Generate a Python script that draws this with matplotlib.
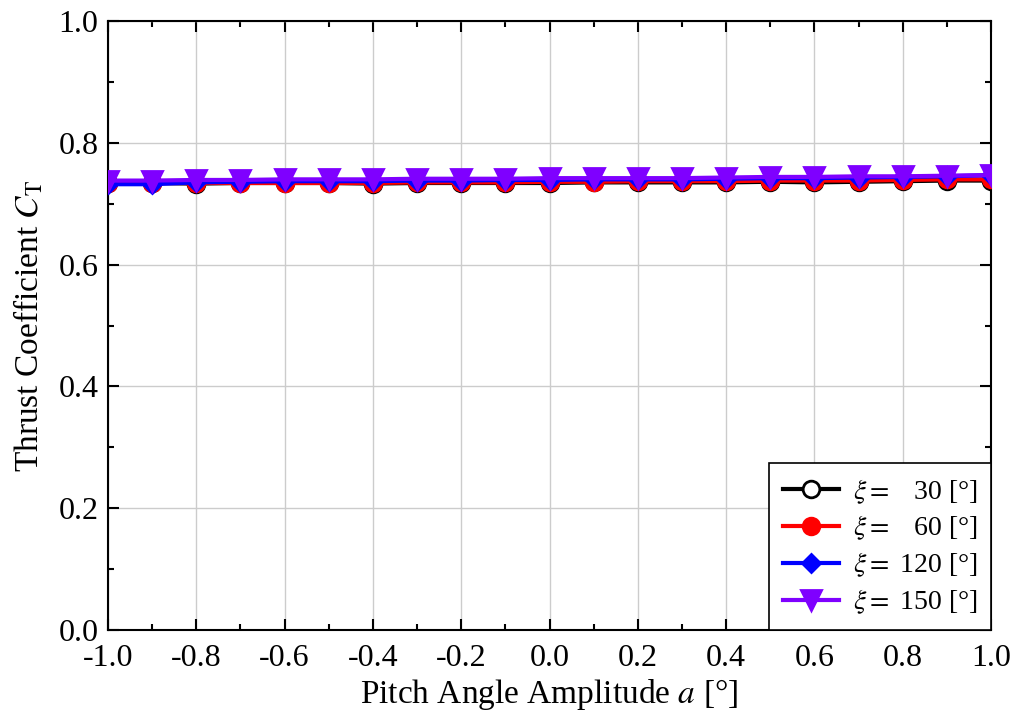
import numpy as np
import matplotlib
matplotlib.use("Agg")
import matplotlib.pyplot as plt
from matplotlib.ticker import MultipleLocator

plt.rcParams["font.family"] = ["Liberation Serif", "DejaVu Serif"]
plt.rcParams["mathtext.fontset"] = "stix"

# Pitch angle amplitude a [deg]
amplitude = [-1.0, -0.9, -0.8, -0.7, -0.6, -0.5, -0.4, -0.3, -0.2, -0.1, 0.0,
             0.1, 0.2, 0.3, 0.4, 0.5, 0.6, 0.7, 0.8, 0.9, 1.0]

# Thrust coefficient C_T for each phase angle xi
ct_xi30 = [0.734, 0.734, 0.733, 0.734, 0.734, 0.734, 0.733, 0.734, 0.734, 0.734, 0.734,
           0.735, 0.735, 0.735, 0.735, 0.736, 0.735, 0.736, 0.737, 0.738, 0.738]
ct_xi60 = [0.734, 0.734, 0.734, 0.734, 0.734, 0.734, 0.734, 0.735, 0.735, 0.735, 0.736,
           0.736, 0.737, 0.737, 0.737, 0.738, 0.738, 0.738, 0.739, 0.740, 0.740]
ct_xi120 = [0.732, 0.732, 0.735, 0.736, 0.737, 0.737, 0.737, 0.738, 0.738, 0.739, 0.739,
            0.740, 0.740, 0.740, 0.741, 0.742, 0.742, 0.743, 0.744, 0.745, 0.747]
ct_xi150 = [0.738, 0.738, 0.739, 0.739, 0.740, 0.740, 0.740, 0.741, 0.741, 0.741, 0.742,
            0.742, 0.742, 0.742, 0.743, 0.744, 0.744, 0.745, 0.745, 0.746, 0.747]

series = [
    (ct_xi30, "black", "o", "white", 12, r"$\xi = $   30 [°]"),
    (ct_xi60, "red", "o", "red", 12, r"$\xi = $   60 [°]"),
    (ct_xi120, "blue", "D", "blue", 9.5, r"$\xi = $ 120 [°]"),
    (ct_xi150, "#7f00ff", "v", "#7f00ff", 14.5, r"$\xi = $ 150 [°]"),
]

fig = plt.figure(figsize=(10.16, 7.22), dpi=100)
ax = fig.add_axes([0.1063, 0.1274, 0.8691, 0.8435])

for values, color, marker, face, size, label in series:
    ax.plot(amplitude, values, color=color, lw=3, marker=marker, ms=size,
            markerfacecolor=face, markeredgecolor=color, markeredgewidth=2,
            label=label, zorder=3)

ax.set_xlim(-1.0, 1.0)
ax.set_ylim(0.0, 1.0)
ax.xaxis.set_major_locator(MultipleLocator(0.2))
ax.xaxis.set_minor_locator(MultipleLocator(0.1))
ax.yaxis.set_major_locator(MultipleLocator(0.2))
ax.yaxis.set_minor_locator(MultipleLocator(0.1))
ax.set_xticklabels([f"{v:.1f}" for v in ax.get_xticks()])
ax.set_yticklabels([f"{v:.1f}" for v in ax.get_yticks()])

ax.grid(True, which="major", color="#cccccc", lw=1)
ax.tick_params(which="both", direction="in", top=True, right=True, labelsize=23, width=1.5)
ax.tick_params(axis="x", which="major", length=8, pad=10)
ax.tick_params(axis="y", which="major", length=8, pad=7)
ax.tick_params(which="minor", length=4)
for s in ax.spines.values():
    s.set_linewidth(1.5)

ax.set_xlabel(r"Pitch Angle Amplitude $a$ [°]", fontsize=24, labelpad=3)
ax.set_ylabel(r"Thrust Coefficient $C_{\mathrm{T}}$", fontsize=24, labelpad=9)

leg = ax.legend(loc="lower right", fontsize=20, frameon=True, fancybox=False,
                edgecolor="black", framealpha=1, handlelength=2.0,
                borderaxespad=0.0, handletextpad=0.5, labelspacing=0.3,
                borderpad=0.5)
leg.get_frame().set_linewidth(1.2)

fig.savefig("out.png", dpi=100)
